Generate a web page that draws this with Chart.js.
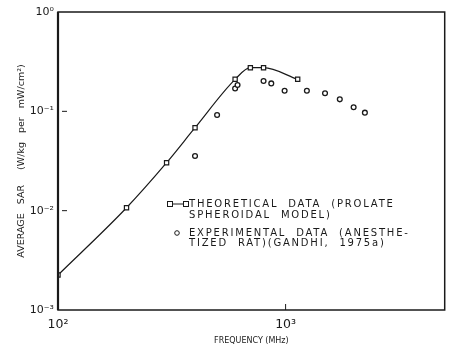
<!DOCTYPE html>
<html>
<head>
<meta charset="utf-8">
<script src="https://cdn.jsdelivr.net/npm/chart.js@4/dist/chart.umd.min.js"></script>
<style>
html,body{margin:0;padding:0;background:#fff;}
#wrap{width:450px;height:349px;position:relative;}
</style>
</head>
<body>
<div id="wrap"><canvas id="c" width="450" height="349"></canvas></div>
<script>
// Data
const theoFreq = [100, 200, 300, 400, 600, 700, 800, 1130];
const theoSAR  = [0.00225, 0.0107, 0.0304, 0.0684, 0.21, 0.275, 0.275, 0.21];
const expFreq  = [400, 500, 600, 615, 800, 865, 990, 1240, 1490, 1730, 1990, 2230];
const expSAR   = [0.0355, 0.092, 0.17, 0.184, 0.202, 0.191, 0.161, 0.161, 0.152, 0.132, 0.11, 0.097];
const xTicks = [100, 1000];
const xTickLabels = ['10²', '10³'];
const yTicks = [0.001, 0.01, 0.1, 1];
const yTickLabels = ['10⁻³', '10⁻²', '10⁻¹', '10⁰'];
const theoLabel = ['THEORETICAL  DATA  (PROLATE', 'SPHEROIDAL  MODEL)'];
const expLabel = ['EXPERIMENTAL  DATA  (ANESTHE-', 'TIZED  RAT)(GANDHI,  1975a)'];
const xTitle = 'FREQUENCY (MHz)';
const yTitle = 'AVERAGE   SAR     (W/kg   per   mW/cm²)';

const INK = '#1a1a1a';

const framePlugin = {
  id: 'frame',
  afterDatasetsDraw(chart) {
    const {ctx, chartArea: a, scales} = chart;
    ctx.save();
    ctx.strokeStyle = INK;
    ctx.lineWidth = 1.5;
    ctx.strokeRect(a.left, a.top, a.right - a.left, a.bottom - a.top);
    ctx.lineWidth = 2.2;
    ctx.beginPath(); ctx.moveTo(a.left, a.top); ctx.lineTo(a.left, a.bottom); ctx.stroke();
    // inward tick marks
    ctx.lineWidth = 1;
    scales.y.ticks.forEach(t => {
      const py = scales.y.getPixelForValue(t.value);
      if (py > a.top + 2 && py < a.bottom - 2) {
        ctx.beginPath(); ctx.moveTo(a.left + 4, py); ctx.lineTo(a.left + 9, py); ctx.stroke();
      }
    });
    scales.x.ticks.forEach(t => {
      const px = scales.x.getPixelForValue(t.value);
      if (px > a.left + 2 && px < a.right - 2) {
        ctx.beginPath(); ctx.moveTo(px, a.bottom); ctx.lineTo(px, a.bottom - 6); ctx.stroke();
      }
    });
    // legend
    const ds = chart.data.datasets;
    ctx.font = '10px "DejaVu Sans", sans-serif';
    ctx.letterSpacing = '1.8px';
    ctx.fillStyle = INK;
    ctx.textBaseline = 'middle';
    ctx.textAlign = 'left';
    const lx = 170, ly = 204;
    ctx.beginPath(); ctx.moveTo(lx, ly); ctx.lineTo(lx + 16, ly); ctx.stroke();
    ctx.fillStyle = '#fff';
    [lx, lx + 16].forEach(x => { ctx.fillRect(x - 2.5, ly - 2.5, 5, 5); ctx.strokeRect(x - 2.5, ly - 2.5, 5, 5); });
    ctx.fillStyle = INK;
    ds[0].legendLines.forEach((s, i) => ctx.fillText(s, 189, ly + i * 11.5));
    const cy = 233;
    ctx.beginPath(); ctx.arc(177, cy, 2.3, 0, Math.PI * 2); ctx.fillStyle = '#fff'; ctx.fill(); ctx.stroke();
    ctx.fillStyle = INK;
    ds[1].legendLines.forEach((s, i) => ctx.fillText(s, 189, cy + i * 10.5));
    ctx.restore();
  }
};

new Chart(document.getElementById('c'), {
  type: 'scatter',
  data: {
    datasets: [
      {
        label: theoLabel.join(' '),
        legendLines: theoLabel,
        data: theoFreq.map((f, i) => ({x: f, y: theoSAR[i]})),
        showLine: true,
        borderColor: INK,
        borderWidth: 1.2,
        tension: 0.35,
        cubicInterpolationMode: 'monotone',
        pointStyle: 'rect',
        pointRadius: 3,
        pointBackgroundColor: '#fff',
        pointBorderColor: INK,
        pointBorderWidth: 1.2
      },
      {
        label: expLabel.join(' '),
        legendLines: expLabel,
        data: expFreq.map((f, i) => ({x: f, y: expSAR[i]})),
        showLine: false,
        pointStyle: 'circle',
        pointRadius: 2.4,
        pointBackgroundColor: '#fff',
        pointBorderColor: INK,
        pointBorderWidth: 1.3
      }
    ]
  },
  options: {
    responsive: false,
    animation: false,
    devicePixelRatio: 1,
    layout: {padding: {top: 12, right: 3, left: 0, bottom: 0}},
    plugins: {legend: {display: false}, tooltip: {enabled: false}},
    scales: {
      x: {
        type: 'logarithmic',
        min: 100, max: 5000,
        afterBuildTicks: s => { s.ticks = xTicks.map(v => ({value: v})); },
        afterFit: s => { s.height = 39; },
        grid: {display: false, drawTicks: false},
        border: {display: false},
        ticks: {
          color: INK,
          font: {family: '"DejaVu Sans", sans-serif', size: 12.5},
          padding: 7,
          maxRotation: 0,
          callback: (v) => xTickLabels[xTicks.indexOf(v)]
        },
        title: {
          display: true, text: xTitle, color: INK,
          font: {family: '"DejaVu Sans", sans-serif', size: 8},
          padding: {top: 0, bottom: 3}
        }
      },
      y: {
        type: 'logarithmic',
        min: 0.001, max: 1,
        afterBuildTicks: s => { s.ticks = yTicks.map(v => ({value: v})); },
        afterFit: s => { s.width = 58; },
        grid: {display: false, drawTicks: false},
        border: {display: false},
        ticks: {
          color: INK,
          font: {family: '"DejaVu Sans", sans-serif', size: 11},
          padding: 4,
          callback: (v) => yTickLabels[yTicks.indexOf(v)]
        },
        title: {
          display: true, text: yTitle, color: INK,
          font: {family: '"DejaVu Sans", sans-serif', size: 9.5},
          padding: {top: 16, bottom: 0}
        }
      }
    }
  },
  plugins: [framePlugin]
});
</script>
</body>
</html>
